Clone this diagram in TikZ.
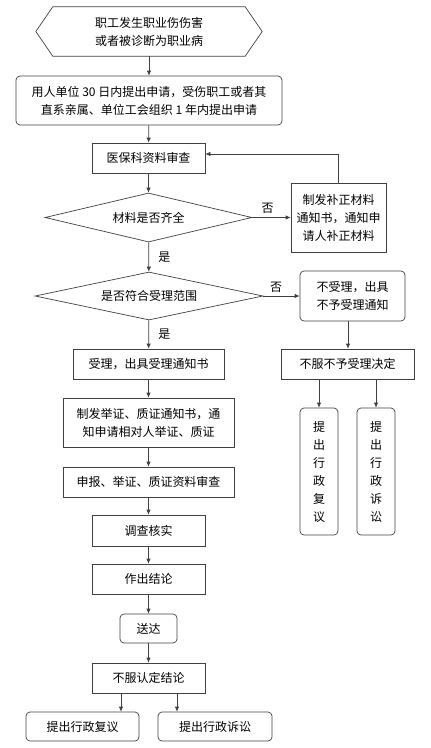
\documentclass[tikz,border=0pt]{standalone}
\usepackage{fontspec}
\newfontfamily\cjk{Noto Sans CJK SC}
\usetikzlibrary{shapes.geometric,arrows.meta}
\begin{document}
\begin{tikzpicture}[x=1pt, y=-1pt, >={Latex[length=5pt,width=4.5pt]},
	every node/.style={font=\cjk\fontsize{12}{18}\selectfont},
	box/.style={draw=black!75, line width=0.7pt, align=center, inner sep=0pt},
	rbox/.style={box, rounded corners=4pt},
	dec/.style={box, diamond, aspect=4},
	conn/.style={draw=black!75, line width=0.7pt}]
	\useasboundingbox (0,0) rectangle (431,748);
	% main column
	\node[align=center, inner sep=0pt, minimum width=226pt, minimum height=49pt] (S) at (149,31.5) {职工发生职业伤伤害\\或者被诊断为职业病};
	\draw[conn] (S.west) -- ([xshift=17pt]S.north west) -- ([xshift=-17pt]S.north east) -- (S.east) -- ([xshift=-17pt]S.south east) -- ([xshift=17pt]S.south west) -- cycle;
	\node[rbox, minimum width=266pt, minimum height=49pt] (A) at (149,100.5) {用人单位 30 日内提出申请，受伤职工或者其\\直系亲属、单位工会组织 1 年内提出申请};
	\node[box, minimum width=113pt, minimum height=30pt] (P) at (148.5,158) {医保科资料审查};
	\node[dec, minimum width=207pt, minimum height=49pt] (D1) at (148.5,217.5) {材料是否齐全};
	\node[box, minimum width=95pt, minimum height=69pt] (B) at (338.5,217.5) {制发补正材料\\通知书，通知申\\请人补正材料};
	\node[dec, minimum width=228pt, minimum height=48pt] (D2) at (149,296) {是否符合受理范围};
	\node[box, minimum width=151pt, minimum height=30pt] (T) at (148.5,364) {受理，出具受理通知书};
	\node[box, minimum width=171pt, minimum height=49pt] (J) at (148.5,422.5) {制发举证、质证通知书，通\\知申请相对人举证、质证};
	\node[box, minimum width=171pt, minimum height=30pt] (F) at (148.5,482) {申报、举证、质证资料审查};
	\node[box, minimum width=113pt, minimum height=31pt] (U) at (148.5,530.5) {调查核实};
	\node[box, minimum width=113pt, minimum height=30pt] (V) at (148.5,579) {作出结论};
	\node[rbox, minimum width=57pt, minimum height=29pt] (L) at (148.5,628.5) {送达};
	\node[box, minimum width=113pt, minimum height=30pt] (O) at (148.5,678) {不服认定结论};
	\node[rbox, minimum width=113pt, minimum height=29pt] (E1) at (82.5,726.5) {提出行政复议};
	\node[rbox, minimum width=114pt, minimum height=29pt] (E2) at (215,726.5) {提出行政诉讼};
	% right column
	\node[rbox, minimum width=105pt, minimum height=50pt] (N) at (352.5,296) {不受理，出具\\不予受理通知};
	\node[box, minimum width=133pt, minimum height=30pt] (W) at (347.5,364) {不服不予受理决定};
	\node[rbox, minimum width=38pt, minimum height=127pt] (R1) at (319,471.5) {提\\出\\行\\政\\复\\议};
	\node[rbox, minimum width=38pt, minimum height=127pt] (R2) at (376,471.5) {提\\出\\行\\政\\诉\\讼};
	\draw[conn, ->] (S) -- (A);
	\draw[conn, ->] (A) -- (P);
	\draw[conn, ->] (P) -- (D1);
	\draw[conn, ->] (D1) -- node[pos=0.4, above] {否} (B);
	\draw[conn, ->] (B.north) |- ([yshift=4pt]P.east);
	\draw[conn, ->] (D1) -- node[right, xshift=6pt] {是} (D2);
	\draw[conn, ->] (D2) -- node[pos=0.35, above] {否} (N);
	\draw[conn, ->] (D2) -- node[right, xshift=6pt] {是} (T);
	\draw[conn, ->] (T) -- (J);
	\draw[conn, ->] (J) -- (F);
	\draw[conn, ->] (F) -- (U);
	\draw[conn, ->] (U) -- (V);
	\draw[conn, ->] (V) -- (L);
	\draw[conn, ->] (L) -- (O);
	\draw[conn, ->] ([xshift=-27.5pt]O.south) -- ([xshift=38.5pt]E1.north);
	\draw[conn, ->] ([xshift=28.5pt]O.south) -- ([xshift=-38pt]E2.north);
	\draw[conn, ->] ([xshift=-4.5pt]N.south) -- ([xshift=0.5pt]W.north);
	\draw[conn, ->] ([xshift=-28.5pt]W.south) -- (R1);
	\draw[conn, ->] ([xshift=28.5pt]W.south) -- (R2);
\end{tikzpicture}
\end{document}
